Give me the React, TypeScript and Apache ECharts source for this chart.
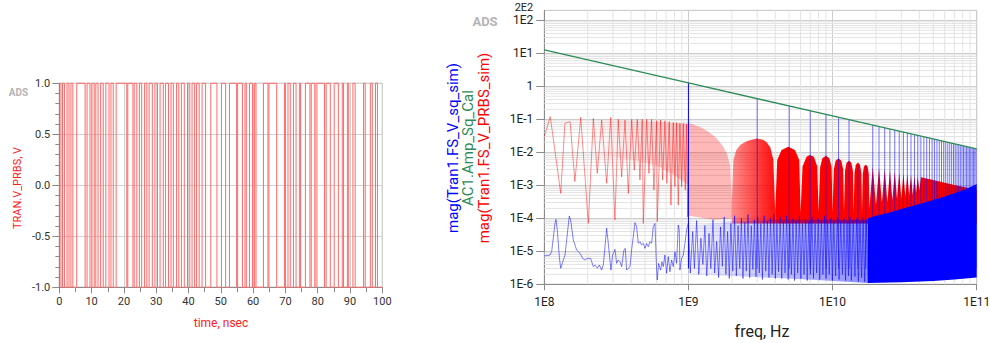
import React, { useEffect, useRef } from "react";
import * as echarts from "echarts";

const FONT = 'Roboto, "DejaVu Sans", Arial, sans-serif';

// ---------------- Left panel: PRBS time-domain waveform ----------------
const TIME_MIN_NS = 0;
const TIME_MAX_NS = 100;
const PRBS_START_LEVEL = 1;
const PRBS_TRANSITIONS_NS: number[] = [
  0.5, 1.0, 1.6, 2.4, 3.0, 3.6, 4.2, 5.4, 8.0, 8.6, 9.5, 10.1, 10.8, 11.3, 12.0, 12.8, 13.6, 14.4,
  15.4, 16.0, 16.7, 17.6, 20.9, 21.2, 22.8, 23.2, 24.0, 24.8, 25.5, 26.4, 27.1, 27.8, 28.8, 29.6,
  30.4, 31.2, 32.2, 32.9, 33.8, 34.6, 35.3, 36.3, 37.0, 37.8, 38.7, 39.7, 40.4, 41.1, 41.9, 42.5,
  43.3, 44.2, 45.3, 46.9, 48.8, 50.2, 51.5, 52.7, 54.9, 55.2, 56.7, 57.5, 57.9, 58.9, 59.8, 60.4,
  60.9, 63.2, 64.6, 64.9, 67.3, 69.7, 70.0, 70.8, 71.5, 72.5, 73.3, 74.4, 74.7, 76.2, 77.6, 78.0,
  79.1, 79.5, 82.1, 82.6, 83.9, 85.1, 86.4, 87.6, 88.0, 89.2, 89.6, 90.9, 91.6, 94.2, 94.7, 96.3,
  96.9, 97.9, 98.5,
];

// ---------------- Right panel: spectra (frequency in GHz, magnitude) ----------------
const GREEN_CAL_GHZ = [0.1, 1, 10, 100];
const GREEN_CAL_MAG = [12.73, 1.273, 0.1273, 0.01273];

const SQ_HARMONIC_GHZ = [
  1, 3, 5, 7, 9, 11, 13, 15, 17, 19, 21, 23, 25, 27, 29, 31, 33, 35, 37, 39, 41, 43, 45, 47, 49,
  51, 53, 55, 57, 59, 61, 63, 65, 67, 69, 71, 73, 75, 77, 79, 81, 83, 85, 87, 89, 91, 93, 95, 97, 99,
];
const SQ_HARMONIC_MAG = [
  1.273, 0.424, 0.255, 0.182, 0.141, 0.116, 0.098, 0.004, 0.004, 0.067, 0.061, 0.055, 0.051, 0.047,
  0.044, 0.041, 0.0386, 0.0364, 0.0344, 0.0326, 0.031, 0.0296, 0.0283, 0.0271, 0.026, 0.025, 0.024,
  0.0231, 0.0223, 0.0216, 0.0209, 0.0202, 0.0196, 0.019, 0.0184, 0.0179, 0.0174, 0.017, 0.0165,
  0.0161, 0.0157, 0.0153, 0.015, 0.0146, 0.0143, 0.014, 0.0137, 0.0134, 0.0131, 0.0129,
];
const SQ_SPIKE_BASE = 3e-6;

const SQ_NOISE_LOW: [number, number][] = [
  [0.1, 7.2e-6], [0.1095, 7.7e-6], [0.1125, 9.8e-6], [0.1186, 7.0e-5], [0.1205, 9.3e-5],
  [0.1231, 4.4e-5], [0.1271, 6.9e-6], [0.1299, 3.05e-6], [0.1355, 5.45e-6], [0.1392, 7.7e-6],
  [0.1429, 2.2e-5], [0.1491, 1.18e-4], [0.1523, 8.9e-5], [0.159, 2.2e-5], [0.1677, 1.09e-5],
  [0.1769, 8.7e-6], [0.1846, 6.1e-6], [0.1915, 5.45e-6], [0.1988, 6.1e-6], [0.2097, 6.1e-6],
  [0.2188, 3.42e-6], [0.2247, 3.85e-6], [0.2332, 3.05e-6], [0.2407, 3.85e-6], [0.25, 2.71e-6],
  [0.2567, 3.85e-6], [0.2636, 1.38e-5], [0.2707, 5.0e-5], [0.278, 1.74e-5], [0.29, 2.71e-6],
  [0.2979, 7.7e-6], [0.3093, 1.15e-5], [0.3176, 4.32e-6], [0.3262, 5.45e-6], [0.335, 4.85e-6],
  [0.344, 3.42e-6], [0.357, 1.09e-5], [0.3647, 1.23e-5], [0.3725, 2.71e-6], [0.3825, 3.05e-6],
  [0.3929, 3.42e-6], [0.4035, 1.09e-5], [0.4143, 2.8e-5], [0.4256, 7.4e-5], [0.437, 5.6e-5],
  [0.4488, 1.74e-5], [0.461, 1.96e-5], [0.4734, 1.55e-5], [0.4862, 1.74e-5], [0.4993, 1.23e-5],
  [0.5128, 1.74e-5], [0.5265, 1.38e-5], [0.5408, 1.96e-5], [0.5554, 1.74e-5], [0.5703, 5.6e-5],
  [0.5857, 7.0e-5], [0.6015, 2.71e-6], [0.608, 1.35e-6], [0.621, 4.32e-6], [0.6412, 2.71e-6],
  [0.655, 4.85e-6], [0.6691, 3.42e-6], [0.6871, 7.73e-6], [0.7057, 2.15e-6], [0.7247, 6.9e-6],
  [0.7443, 2.41e-6], [0.7644, 5.45e-6], [0.785, 3.42e-6], [0.8062, 9.75e-6], [0.8279, 4.32e-6],
  [0.8503, 6.3e-5], [0.864, 4.4e-5], [0.873, 2.71e-6], [0.8967, 6.1e-6], [0.921, 7.73e-6],
  [0.9456, 1.74e-5], [0.9712, 4.4e-5], [0.997, 7.0e-5],
];

const SQ_NOISE_MID: [number, number][] = [
  [1.0, 7.0e-5], [1.03, 2.2e-6], [1.07, 4.0e-5], [1.1, 3.0e-6], [1.14, 8.5e-5], [1.18, 2.0e-6],
  [1.22, 2.5e-5], [1.26, 4.0e-6], [1.3, 6.0e-5], [1.34, 1.8e-6], [1.39, 3.5e-5], [1.43, 3.0e-6],
  [1.48, 9.0e-5], [1.52, 2.2e-6], [1.57, 2.0e-5], [1.62, 1.6e-6], [1.67, 5.5e-5], [1.72, 3.5e-6],
  [1.77, 1.1e-4], [1.82, 2.0e-6], [1.87, 4.0e-5], [1.92, 1.5e-6], [1.97, 7.0e-5], [2.03, 2.5e-6],
  [2.09, 1.2e-4], [2.15, 1.8e-6], [2.21, 6.0e-5], [2.27, 3.0e-6], [2.33, 1.0e-4], [2.39, 1.5e-6],
  [2.46, 7.5e-5], [2.52, 2.5e-6], [2.59, 1.3e-4], [2.66, 1.6e-6], [2.73, 6.0e-5], [2.8, 2.8e-6],
  [2.87, 9.0e-5], [2.94, 1.7e-6], [3.02, 1.1e-4], [3.1, 2.2e-6], [3.18, 7.0e-5], [3.26, 1.4e-6],
  [3.35, 1.2e-4], [3.44, 2.5e-6], [3.53, 8.0e-5], [3.62, 1.6e-6], [3.71, 1.0e-4], [3.81, 2.0e-6],
  [3.91, 1.3e-4], [4.01, 1.5e-6], [4.11, 7.0e-5], [4.22, 2.4e-6], [4.33, 1.1e-4], [4.44, 1.5e-6],
  [4.56, 8.0e-5], [4.68, 2.2e-6], [4.8, 1.2e-4], [4.92, 1.4e-6], [5.05, 7.5e-5], [5.18, 2.0e-6],
  [5.31, 1.0e-4], [5.45, 1.3e-6], [5.59, 8.5e-5], [5.73, 2.2e-6], [5.88, 1.2e-4], [6.03, 1.5e-6],
  [6.18, 7.0e-5], [6.34, 2.0e-6], [6.5, 1.0e-4], [6.67, 1.3e-6], [6.84, 8.0e-5], [7.01, 2.0e-6],
  [7.19, 1.1e-4], [7.37, 1.5e-6], [7.56, 7.0e-5], [7.75, 2.2e-6], [7.95, 1.0e-4], [8.15, 1.4e-6],
  [8.36, 8.5e-5], [8.57, 2.0e-6], [8.79, 1.2e-4], [9.01, 1.5e-6], [9.24, 7.5e-5], [9.48, 2.0e-6],
  [9.72, 1.0e-4], [9.97, 1.3e-6], [10.2, 8.0e-5], [10.5, 1.8e-6], [10.8, 1.1e-4], [11.1, 1.4e-6],
  [11.4, 8.0e-5], [11.7, 2.0e-6], [12.0, 1.0e-4], [12.3, 1.3e-6], [12.6, 7.5e-5], [12.9, 1.8e-6],
  [13.2, 1.1e-4], [13.5, 1.3e-6], [13.9, 8.5e-5], [14.3, 1.7e-6], [14.7, 1.0e-4], [15.1, 1.2e-6],
  [15.5, 8.0e-5], [15.9, 1.6e-6], [16.3, 1.1e-4], [16.7, 1.2e-6], [17.2, 9.0e-5], [17.6, 1.1e-6],
];

const SQ_COMB_TOP: [number, number][] = [[1, 6e-5], [2, 8e-5], [4, 9e-5], [10, 9e-5], [17.6, 9e-5]];
const SQ_COMB_BOTTOM: [number, number][] = [[1, 2e-6], [5, 1.5e-6], [17.6, 1.1e-6]];

const SQ_DENSE_TOP: [number, number][] = [
  [17.6, 1.0e-4], [20, 1.2e-4], [25, 1.5e-4], [30, 1.9e-4], [40, 2.7e-4], [50, 3.6e-4],
  [60, 4.6e-4], [70, 5.7e-4], [80, 7.0e-4], [90, 8.8e-4], [100, 1.1e-3],
];
const SQ_DENSE_BOTTOM: [number, number][] = [[17.6, 1.1e-6], [30, 1.15e-6], [50, 1.25e-6], [70, 1.4e-6], [100, 1.6e-6]];

const PRBS_SPEC_LOW: [number, number][] = [
  [0.1, 0.03], [0.11, 0.12], [0.13, 5.7e-4], [0.139, 0.076], [0.151, 0.085], [0.163, 1.3e-3],
  [0.179, 0.115], [0.202, 7.0e-5], [0.219, 0.107], [0.233, 2.3e-3], [0.25, 0.095], [0.271, 1.15e-3],
  [0.289, 0.115], [0.309, 8.9e-5], [0.326, 0.1], [0.344, 1.8e-3], [0.363, 0.095], [0.383, 5.7e-4],
  [0.404, 0.1], [0.421, 2.9e-3], [0.442, 0.1], [0.461, 1.45e-3], [0.478, 0.1], [0.486, 7.0e-5],
  [0.513, 0.1], [0.532, 2.3e-3], [0.555, 0.1], [0.576, 7.2e-4], [0.602, 0.091], [0.608, 7.9e-5],
  [0.641, 0.095], [0.662, 1.45e-3], [0.687, 0.09], [0.709, 1.15e-3], [0.736, 0.085], [0.756, 2.5e-4],
  [0.785, 0.08], [0.806, 9.1e-4], [0.828, 0.079], [0.85, 2.5e-4], [0.873, 0.075], [0.897, 9.1e-4],
  [0.921, 0.075], [0.951, 7.2e-4], [0.971, 0.072], [0.987, 1.1e-4], [1.0, 0.077],
];
const PRBS_SPEC_HATCH_TOP: [number, number][] = [[0.2, 0.09], [0.4, 0.09], [0.6, 0.085], [0.8, 0.078], [1.0, 0.075]];
const PRBS_SPEC_HATCH_BOTTOM: [number, number][] = [[0.2, 0.01], [0.4, 0.006], [0.6, 0.004], [0.8, 0.002], [1.0, 0.001]];

const PRBS_SPEC_PINK_TOP: [number, number][] = [
  [1.0, 0.077], [1.2, 0.06], [1.4, 0.04], [1.55, 0.028], [1.74, 0.015], [1.85, 0.009], [1.95, 0.004], [2.0, 3e-4],
];
const PRBS_SPEC_PINK_BOTTOM: [number, number][] = [[1.0, 1.2e-4], [1.5, 9e-5], [2.0, 1e-4]];

const PRBS_LOBE_A_TOP: [number, number][] = [
  [2.0, 3e-4], [2.05, 5.8e-3], [2.15, 0.0117], [2.3, 0.017], [2.55, 0.022], [2.97, 0.026],
  [3.3, 0.024], [3.5, 0.02], [3.7, 0.014], [3.88, 0.006], [4.0, 1.5e-4],
];
const PRBS_LOBE_A_BOTTOM: [number, number][] = [[2.0, 7e-5], [4.0, 7e-5]];

const PRBS_LOBES_TOP: [number, number][] = [
  [4.0, 1.5e-4], [4.13, 5.8e-3], [4.43, 0.0117], [4.93, 0.0148], [5.48, 0.0117], [5.87, 5.8e-3], [6.0, 1.5e-4],
  [6.19, 3.7e-3], [6.6, 7.4e-3], [6.96, 8.3e-3], [7.42, 7.4e-3], [7.83, 3.7e-3], [8.0, 1.5e-4],
  [8.2, 3.5e-3], [8.5, 6.6e-3], [9.0, 7.9e-3], [9.5, 6.6e-3], [9.85, 3.5e-3], [10.0, 1.5e-4],
  [10.2, 3.0e-3], [10.5, 5.6e-3], [11.0, 6.6e-3], [11.5, 5.6e-3], [11.85, 3.0e-3], [12.0, 1.5e-4],
  [12.2, 2.7e-3], [12.5, 4.8e-3], [13.0, 5.6e-3], [13.5, 4.8e-3], [13.85, 2.7e-3], [14.0, 1.5e-4],
  [14.2, 2.4e-3], [14.5, 4.2e-3], [15.0, 4.9e-3], [15.5, 4.2e-3], [15.85, 2.4e-3], [16.0, 1.5e-4],
  [16.2, 2.2e-3], [16.5, 3.7e-3], [17.0, 4.2e-3], [17.5, 3.7e-3], [17.85, 2.2e-3], [18.0, 2e-4],
  [19, 3.8e-3], [20, 2.5e-4], [21, 3.4e-3], [22, 3e-4], [23, 3.1e-3], [24, 3e-4], [25, 2.9e-3],
  [26, 3.5e-4], [27, 2.7e-3], [28, 4e-4], [29, 2.5e-3], [30, 4e-4], [31, 2.3e-3], [32, 4.5e-4],
  [33, 2.2e-3], [34, 5e-4], [35, 2.05e-3], [36, 5e-4], [37, 1.95e-3], [38, 6e-4], [39, 1.85e-3],
  [40, 7e-4], [41, 1.76e-3], [45, 1.6e-3], [50, 1.45e-3], [60, 1.2e-3], [70, 1.03e-3], [80, 9e-4],
  [90, 8e-4], [100, 7.2e-4],
];
const PRBS_LOBES_BOTTOM: [number, number][] = [[4.0, 7e-5], [100, 7e-5]];

// ---------------- helpers ----------------
const toHz = (arr: [number, number][]) => arr.map(([g, v]) => [g * 1e9, v] as [number, number]);

const sci = (v: number) => {
  const e = Math.floor(Math.log10(v) + 1e-9);
  const m = Math.round(v / Math.pow(10, e));
  if (e === 0 && m === 1) return "1";
  return `${m}E${e}`;
};

function band(top: [number, number][], bottom: [number, number][], fill: any, z: number) {
  const T = toHz(top);
  const B = toHz(bottom).reverse();
  const all = T.concat(B);
  return {
    type: "custom",
    xAxisIndex: 1,
    yAxisIndex: 1,
    z,
    silent: true,
    clip: true,
    data: [[T[0][0], T[0][1]]],
    renderItem: (_p: any, api: any) => ({
      type: "polygon",
      shape: { points: all.map((p) => api.coord(p)) },
      style: { fill, stroke: null },
    }),
  };
}

function prbsPoints() {
  let lvl = PRBS_START_LEVEL;
  const pts: [number, number][] = [[TIME_MIN_NS, lvl]];
  for (const t of PRBS_TRANSITIONS_NS) {
    pts.push([t, lvl]);
    lvl = -lvl;
    pts.push([t, lvl]);
  }
  pts.push([TIME_MAX_NS, lvl]);
  return pts;
}

function buildOption() {
  const minorY: number[] = [];
  for (let k = -6; k <= 2; k++) for (let m = 2; m <= 9; m++) { const v = m * Math.pow(10, k); if (v < 200) minorY.push(v); }
  const minorX: number[] = [];
  for (let k = 8; k <= 10; k++) for (let m = 2; m <= 9; m++) minorX.push(m * Math.pow(10, k));

  const axisGray = "#8a8a8a";
  const labelStyle = { color: "#222", fontFamily: FONT };

  return {
    animation: false,
    backgroundColor: "#fff",
    grid: [
      { left: 59.3, top: 83.3, width: 323, height: 204, show: true, borderColor: "#9a9a9a", borderWidth: 1, outerBoundsMode: "none" },
      { left: 544.3, top: 10.4, width: 432.4, height: 273.9, show: true, borderColor: "#b0b0b0", borderWidth: 1, outerBoundsMode: "none" },
    ],
    xAxis: [
      {
        type: "value", gridIndex: 0, min: TIME_MIN_NS, max: TIME_MAX_NS, interval: 10,
        axisLine: { show: true, onZero: false, lineStyle: { color: axisGray } },
        axisTick: { show: true, length: 6, lineStyle: { color: axisGray } },
        minorTick: { show: true, splitNumber: 2, length: 5, lineStyle: { color: axisGray } },
        axisLabel: { ...labelStyle, color: "#333", fontSize: 11, margin: 9 },
        splitLine: { show: true, lineStyle: { color: "#d2d2d2" } },
      },
      {
        type: "log", gridIndex: 1, logBase: 10, min: 1e8, max: 1e11,
        axisLine: { show: true, onZero: false, lineStyle: { color: axisGray } },
        axisTick: { show: true, length: 6, lineStyle: { color: axisGray } },
        axisLabel: { ...labelStyle, fontSize: 12, margin: 12, formatter: sci, showMinLabel: true, showMaxLabel: true },
        splitLine: { show: true, lineStyle: { color: "#cccccc" } },
      },
    ],
    yAxis: [
      {
        type: "value", gridIndex: 0, min: -1, max: 1, interval: 0.5,
        axisLine: { show: true, onZero: false, lineStyle: { color: axisGray } },
        axisTick: { show: true, length: 7, lineStyle: { color: axisGray } },
        minorTick: { show: true, splitNumber: 5, length: 4, lineStyle: { color: axisGray } },
        axisLabel: { ...labelStyle, color: "#333", fontSize: 11, margin: 9, formatter: (v: number) => v.toFixed(1), showMinLabel: true, showMaxLabel: true },
        splitLine: { show: true, lineStyle: { color: "#d2d2d2" } },
      },
      {
        type: "log", gridIndex: 1, logBase: 10, min: 1e-6, max: 200,
        axisLine: { show: true, onZero: false, lineStyle: { color: axisGray } },
        axisTick: { show: true, length: 8, lineStyle: { color: axisGray } },
        axisLabel: { ...labelStyle, fontSize: 12, margin: 11, formatter: sci, showMinLabel: true, showMaxLabel: false, hideOverlap: false },
        splitLine: { show: true, lineStyle: { color: "#cccccc" } },
      },
    ],
    graphic: [
      { type: "text", x: 18.5, y: 92.5, style: { text: "ADS", font: `bold 10px ${FONT}`, fill: "#b4b4b4", align: "center", verticalAlign: "middle" } },
      { type: "text", x: 17, y: 188, rotation: Math.PI / 2, style: { text: "TRAN.V_PRBS, V", font: `11px ${FONT}`, fill: "#ff2020", align: "center", verticalAlign: "middle" } },
      { type: "text", x: 221, y: 323, style: { text: "time, nsec", font: `12px ${FONT}`, fill: "#ff2020", align: "center", verticalAlign: "middle" } },
      { type: "text", x: 485, y: 21, style: { text: "ADS", font: `bold 13px ${FONT}`, fill: "#b4b4b4", align: "center", verticalAlign: "middle" } },
      { type: "text", x: 533.3, y: 7.2, style: { text: "2E2", font: `11px ${FONT}`, fill: "#222", align: "right", verticalAlign: "middle" } },
      { type: "text", x: 453, y: 148, rotation: Math.PI / 2, style: { text: "mag(Tran1.FS_V_sq_sim)", font: `15px ${FONT}`, fill: "#0000ff", align: "center", verticalAlign: "middle" } },
      { type: "text", x: 468, y: 148, rotation: Math.PI / 2, style: { text: "AC1.Amp_Sq_Cal", font: `15px ${FONT}`, fill: "#2e8b57", align: "center", verticalAlign: "middle" } },
      { type: "text", x: 484, y: 148, rotation: Math.PI / 2, style: { text: "mag(Tran1.FS_V_PRBS_sim)", font: `15px ${FONT}`, fill: "#ff0000", align: "center", verticalAlign: "middle" } },
      { type: "text", x: 762, y: 331, style: { text: "freq, Hz", font: `16px ${FONT}`, fill: "#222", align: "center", verticalAlign: "middle" } },
    ],
    series: [
      // left panel waveform
      {
        type: "line", xAxisIndex: 0, yAxisIndex: 0, data: prbsPoints(), showSymbol: false, symbol: "none",
        lineStyle: { color: "#ff6a6a", width: 1 }, z: 3, clip: false,
      },
      // right panel minor log grid
      {
        type: "custom", xAxisIndex: 1, yAxisIndex: 1, z: 1, silent: true,
        data: minorY.map((v) => [1e8, v]),
        renderItem: (params: any, api: any) => {
          const cs = params.coordSys;
          const y = api.coord([1e8, api.value(1)])[1];
          return { type: "line", shape: { x1: cs.x, y1: y, x2: cs.x + cs.width, y2: y }, style: { stroke: "#e3e3e3", lineWidth: 1 } };
        },
      },
      {
        type: "custom", xAxisIndex: 1, yAxisIndex: 1, z: 1, silent: true,
        data: minorX.map((v) => [v, 1]),
        renderItem: (params: any, api: any) => {
          const cs = params.coordSys;
          const x = api.coord([api.value(0), 1])[0];
          return { type: "line", shape: { x1: x, y1: cs.y, x2: x, y2: cs.y + cs.height }, style: { stroke: "#e3e3e3", lineWidth: 1 } };
        },
      },
      // PRBS spectrum (red)
      band(PRBS_SPEC_HATCH_TOP, PRBS_SPEC_HATCH_BOTTOM,
        new echarts.graphic.LinearGradient(0, 0, 1, 0, [{ offset: 0, color: "rgba(255,0,0,0.0)" }, { offset: 1, color: "rgba(255,0,0,0.22)" }]), 2),
      band(PRBS_SPEC_PINK_TOP, PRBS_SPEC_PINK_BOTTOM, "rgba(255,0,0,0.28)", 2),
      band(PRBS_LOBE_A_TOP, PRBS_LOBE_A_BOTTOM,
        new echarts.graphic.LinearGradient(0, 0, 1, 0, [{ offset: 0, color: "rgba(255,0,0,0.45)" }, { offset: 1, color: "rgba(255,0,0,0.95)" }]), 2),
      band(PRBS_LOBES_TOP, PRBS_LOBES_BOTTOM, "#ff0000", 2),
      {
        type: "line", xAxisIndex: 1, yAxisIndex: 1, data: toHz(PRBS_SPEC_LOW), showSymbol: false, symbol: "none",
        lineStyle: { color: "rgba(255,0,0,0.45)", width: 1 }, z: 2,
      },
      // square-wave spectrum (blue)
      band(SQ_COMB_TOP, SQ_COMB_BOTTOM,
        new echarts.graphic.LinearGradient(0, 0, 1, 0, [{ offset: 0, color: "rgba(0,0,255,0.04)" }, { offset: 1, color: "rgba(0,0,255,0.45)" }]), 3),
      {
        type: "line", xAxisIndex: 1, yAxisIndex: 1, data: toHz(SQ_NOISE_LOW), showSymbol: false, symbol: "none",
        lineStyle: { color: "rgba(0,0,255,0.5)", width: 1 }, z: 3,
      },
      {
        type: "line", xAxisIndex: 1, yAxisIndex: 1, data: toHz(SQ_NOISE_MID), showSymbol: false, symbol: "none",
        lineStyle: { color: "rgba(0,0,255,0.5)", width: 1 }, z: 3,
      },
      band(SQ_DENSE_TOP, SQ_DENSE_BOTTOM, "#0000ff", 3),
      {
        type: "custom", xAxisIndex: 1, yAxisIndex: 1, z: 3, silent: true,
        data: SQ_HARMONIC_GHZ.map((g, i) => [g * 1e9, SQ_HARMONIC_MAG[i]]),
        renderItem: (params: any, api: any) => {
          const p0 = api.coord([api.value(0), SQ_SPIKE_BASE]);
          const p1 = api.coord([api.value(0), api.value(1)]);
          return {
            type: "line",
            shape: { x1: p0[0], y1: p0[1], x2: p1[0], y2: p1[1] },
            style: { stroke: params.dataIndex === 0 ? "#0000ff" : "rgba(0,0,255,0.55)", lineWidth: 1 },
          };
        },
      },
      // calculated harmonic amplitude (green)
      {
        type: "line", xAxisIndex: 1, yAxisIndex: 1, data: GREEN_CAL_GHZ.map((g, i) => [g * 1e9, GREEN_CAL_MAG[i]]),
        showSymbol: false, symbol: "none", lineStyle: { color: "#2e8b57", width: 1.5 }, z: 4,
      },
    ],
  };
}

export default function App() {
  const ref = useRef<HTMLDivElement>(null);
  useEffect(() => {
    const chart = echarts.init(ref.current!, undefined, { renderer: "svg", width: 990, height: 343 });
    chart.setOption(buildOption() as any);
    return () => chart.dispose();
  }, []);
  return <div ref={ref} style={{ position: "fixed", left: 0, top: 0, width: 990, height: 343, background: "#fff" }} />;
}
